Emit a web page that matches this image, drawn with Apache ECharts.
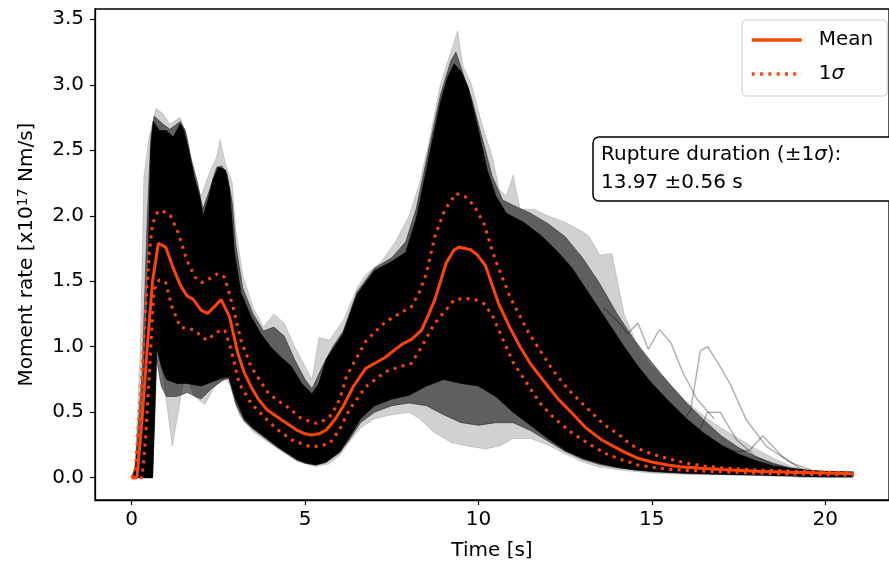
<!DOCTYPE html>
<html>
<head>
<meta charset="utf-8">
<script src="https://cdn.jsdelivr.net/npm/echarts@6/dist/echarts.min.js"></script>
<style>html,body{margin:0;padding:0;background:#fff;}#c{width:889px;height:567px;}</style>
</head>
<body>
<div id="c"></div>
<script>
// ---- tick values ----
const xTicks = [0, 5, 10, 15, 20];
const yTicks = [0, 0.5, 1.0, 1.5, 2.0, 2.5, 3.0, 3.5];

// ---- mean and 1-sigma curves [time s, moment rate x1e17] ----
const meanCurve = [[0,0],[0.15,0],[0.3,0.45],[0.45,1.0],[0.6,1.5],[0.77,1.79],[0.98,1.76],[1.2,1.6],[1.4,1.47],[1.59,1.39],[1.78,1.36],[2.0,1.28],[2.19,1.255],[2.4,1.31],[2.58,1.36],[2.82,1.23],[3.06,0.95],[3.25,0.8],[3.44,0.695],[3.65,0.6],[3.91,0.517],[4.19,0.466],[4.5,0.41],[4.76,0.364],[5.0,0.335],[5.19,0.326],[5.4,0.335],[5.61,0.364],[5.85,0.44],[6.09,0.542],[6.4,0.7],[6.75,0.835],[7.05,0.88],[7.32,0.92],[7.6,0.98],[7.84,1.026],[8.07,1.056],[8.36,1.127],[8.55,1.24],[8.74,1.357],[9.07,1.64],[9.3,1.74],[9.45,1.76],[9.78,1.74],[9.97,1.7],[10.2,1.62],[10.58,1.33],[10.9,1.15],[11.2,1.0],[11.5,0.87],[11.86,0.746],[12.3,0.6],[12.71,0.49],[13.1,0.38],[13.56,0.288],[14.1,0.21],[14.6,0.148],[15.0,0.12],[15.46,0.097],[15.83,0.084],[16.5,0.07],[17,0.062],[18,0.05],[19,0.042],[20,0.035],[20.83,0.03]];
const sigmaUpper = [[0,0],[0.1,0.05],[0.25,0.6],[0.4,1.3],[0.5,1.7],[0.6,1.94],[0.75,2.03],[0.88,2.04],[1.12,2.0],[1.35,1.865],[1.59,1.66],[1.83,1.53],[2.02,1.49],[2.25,1.52],[2.49,1.56],[2.68,1.53],[2.92,1.305],[3.15,1.05],[3.44,0.847],[3.91,0.656],[4.2,0.59],[4.48,0.542],[4.9,0.45],[5.33,0.415],[5.55,0.44],[5.76,0.479],[6.0,0.6],[6.19,0.771],[6.45,0.9],[6.75,1.04],[7.0,1.11],[7.32,1.19],[7.7,1.25],[8.07,1.305],[8.3,1.42],[8.5,1.56],[8.74,1.84],[9.02,2.04],[9.35,2.17],[9.6,2.15],[9.87,2.08],[10.16,1.94],[10.39,1.74],[10.55,1.62],[10.91,1.38],[11.43,1.115],[12.14,0.822],[12.6,0.67],[13.09,0.542],[13.6,0.41],[14.13,0.313],[14.4,0.25],[14.8,0.2],[15.27,0.16],[16.0,0.11],[16.5,0.09],[17,0.075],[18,0.06],[19,0.05],[20,0.043],[20.83,0.038]];
const sigmaLower = [[0,0],[0.3,0],[0.4,0.3],[0.5,0.75],[0.64,1.43],[0.79,1.51],[0.98,1.49],[1.16,1.305],[1.4,1.15],[1.78,1.13],[2.16,1.05],[2.49,1.115],[2.68,1.13],[2.87,0.975],[3.1,0.72],[3.44,0.568],[3.91,0.44],[4.19,0.37],[4.62,0.288],[5.14,0.237],[5.4,0.24],[5.71,0.263],[6.0,0.37],[6.27,0.517],[6.75,0.695],[7.32,0.809],[7.7,0.845],[8.07,0.873],[8.36,1.0],[8.74,1.18],[9.3,1.357],[9.59,1.37],[9.9,1.36],[10.16,1.33],[10.4,1.24],[10.63,1.1],[11.0,0.88],[11.4,0.72],[11.77,0.57],[12.2,0.45],[12.71,0.339],[13.2,0.255],[13.66,0.186],[14.1,0.14],[14.6,0.097],[15.0,0.08],[15.46,0.064],[15.83,0.059],[16.5,0.05],[17,0.045],[18,0.035],[19,0.028],[20,0.023],[20.83,0.02]];

// ---- ensemble envelopes (dense core, medium and faint spread) ----
const denseUpper = [[0,0],[0.1,0.05],[0.3,0.5],[0.45,1.36],[0.55,2.5],[0.62,2.72],[0.8,2.65],[1.0,2.65],[1.2,2.6],[1.4,2.7],[1.5,2.65],[1.64,2.5],[1.8,2.3],[1.95,2.15],[2.06,2.0],[2.2,2.12],[2.35,2.28],[2.5,2.37],[2.7,2.35],[2.82,2.2],[2.96,1.72],[3.15,1.41],[3.44,1.23],[3.72,1.1],[4.0,1.0],[4.3,0.92],[4.6,0.85],[4.9,0.72],[5.2,0.64],[5.4,0.72],[5.6,0.9],[6.1,1.1],[6.5,1.4],[7.0,1.58],[7.5,1.65],[7.9,1.72],[8.2,1.97],[8.6,2.48],[8.9,2.86],[9.1,3.05],[9.3,3.16],[9.5,3.1],[9.7,2.98],[10.0,2.65],[10.25,2.35],[10.5,2.15],[10.8,2.02],[11.3,1.95],[11.8,1.85],[12.3,1.72],[12.7,1.6],[13.2,1.4],[13.7,1.2],[14.2,1.0],[14.6,0.85],[15.0,0.72],[15.5,0.58],[16.0,0.45],[16.5,0.34],[17.0,0.25],[17.5,0.18],[18.0,0.13],[18.5,0.09],[19.0,0.07],[19.5,0.055],[20.0,0.047],[20.8,0.042]];
const denseLower = [[0,0],[0.6,0],[0.66,0.5],[0.72,1.0],[0.85,0.85],[1.0,0.75],[1.3,0.72],[1.6,0.72],[2.0,0.7],[2.3,0.73],[2.6,0.76],[2.8,0.77],[3.0,0.6],[3.25,0.45],[3.5,0.38],[3.8,0.32],[4.2,0.24],[4.76,0.14],[5.0,0.115],[5.3,0.1],[5.6,0.12],[6.0,0.2],[6.3,0.32],[6.6,0.45],[7.0,0.55],[7.5,0.6],[8.0,0.63],[8.5,0.7],[9.0,0.75],[9.5,0.72],[10.0,0.7],[10.5,0.62],[11.0,0.5],[11.5,0.4],[12.0,0.3],[12.5,0.21],[13.0,0.15],[13.5,0.11],[14.0,0.08],[14.5,0.06],[15,0.05],[16,0.035],[17,0.028],[18,0.022],[19,0.015],[19.5,0.01],[20,0.008],[20.8,0.008]];
const midUpper = [[0,0],[0.1,0.08],[0.3,0.8],[0.45,2.0],[0.55,2.6],[0.65,2.76],[0.9,2.7],[1.1,2.66],[1.4,2.72],[1.55,2.65],[1.7,2.45],[1.9,2.25],[2.05,2.05],[2.25,2.2],[2.45,2.37],[2.6,2.38],[2.75,2.32],[2.9,2.1],[3.0,1.78],[3.2,1.45],[3.5,1.25],[3.8,1.12],[4.1,1.15],[4.4,1.08],[4.7,0.9],[5.0,0.75],[5.2,0.68],[5.5,0.85],[5.8,1.0],[6.1,1.12],[6.5,1.42],[7.0,1.6],[7.5,1.68],[7.9,1.8],[8.2,2.05],[8.6,2.55],[8.9,2.92],[9.2,3.18],[9.35,3.25],[9.6,3.05],[9.8,2.9],[10.1,2.6],[10.4,2.3],[10.7,2.12],[11.0,2.08],[11.5,2.02],[12.0,1.94],[12.5,1.84],[13.0,1.68],[13.5,1.48],[14.0,1.25],[14.5,1.05],[15.0,0.88],[15.5,0.72],[16.0,0.57],[16.5,0.44],[17.0,0.32],[17.5,0.23],[18.0,0.16],[18.5,0.11],[19.0,0.075],[19.5,0.057],[20.0,0.048],[20.8,0.043]];
const midLower = [[0,0],[0.6,0],[0.66,0.4],[0.72,0.9],[0.85,0.7],[1.0,0.62],[1.3,0.62],[1.6,0.65],[2.0,0.6],[2.3,0.68],[2.6,0.74],[2.8,0.76],[3.0,0.56],[3.25,0.43],[3.5,0.37],[3.8,0.31],[4.2,0.23],[4.76,0.135],[5.0,0.11],[5.3,0.095],[5.6,0.115],[6.0,0.19],[6.3,0.3],[6.6,0.42],[7.0,0.5],[7.5,0.55],[8.0,0.57],[8.5,0.55],[9.0,0.48],[9.5,0.42],[10.0,0.4],[10.5,0.42],[11.0,0.42],[11.5,0.36],[12.0,0.28],[12.5,0.2],[13.0,0.14],[13.5,0.1],[14.0,0.075],[15,0.045],[16,0.032],[17,0.025],[18,0.02],[19,0.013],[20,0.006],[20.8,0.006]];
const faintUpper = [[0,0],[0.1,0.1],[0.25,1.0],[0.35,2.3],[0.5,2.6],[0.7,2.82],[0.9,2.78],[1.1,2.7],[1.4,2.75],[1.6,2.6],[1.8,2.3],[2.0,2.15],[2.2,2.3],[2.45,2.45],[2.55,2.58],[2.7,2.4],[2.9,2.25],[3.0,1.9],[3.2,1.55],[3.5,1.3],[3.8,1.15],[4.1,1.25],[4.4,1.18],[4.7,1.0],[5.0,0.85],[5.2,0.75],[5.4,1.07],[5.7,1.05],[6.1,1.2],[6.5,1.45],[6.75,1.55],[7.2,1.65],[7.6,1.8],[8.0,2.0],[8.3,2.25],[8.6,2.6],[8.9,3.0],[9.2,3.25],[9.4,3.41],[9.55,3.15],[9.8,3.0],[10.1,2.7],[10.4,2.45],[10.6,2.2],[10.8,2.15],[11.0,2.31],[11.2,2.05],[11.6,2.05],[12.0,2.0],[12.5,1.95],[13.0,1.88],[13.2,1.84],[13.5,1.7],[13.85,1.71],[14.2,1.25],[14.6,1.0],[15.0,0.85],[15.5,0.72],[16.0,0.58],[16.6,0.45],[17.0,0.38],[17.5,0.3],[18.0,0.22],[18.5,0.15],[19.0,0.09],[19.5,0.06],[20.0,0.05],[20.8,0.045]];
const faintLower = [[0,0],[0.6,0],[0.68,0.9],[0.79,1.0],[1.17,0.24],[1.54,0.8],[1.8,0.62],[2.11,0.56],[2.4,0.7],[2.7,0.76],[2.85,0.7],[3.1,0.48],[3.5,0.35],[4.0,0.26],[4.76,0.125],[5.3,0.085],[5.7,0.105],[6.0,0.17],[6.3,0.28],[6.6,0.38],[7.0,0.45],[7.5,0.48],[8.0,0.5],[8.3,0.45],[8.7,0.35],[9.2,0.27],[9.7,0.24],[10.2,0.22],[10.6,0.24],[11.0,0.3],[11.5,0.3],[12.0,0.25],[12.5,0.18],[13,0.12],[13.5,0.08],[14,0.06],[15,0.035],[16,0.025],[17,0.02],[18,0.015],[19,0.008],[19.3,0.0],[20.8,0.0]];

// ---- individual outlier realisations in the tail ----
const outlierA = [[15.5,0.5],[15.93,0.44],[16.12,0.52],[16.4,0.97],[16.61,1.0],[16.9,0.88],[17.25,0.72],[17.73,0.44],[18.3,0.24],[19.05,0.11],[19.6,0.06]];
const outlierB = [[15.8,0.3],[16.3,0.31],[16.6,0.5],[16.97,0.5],[17.44,0.29],[18.0,0.16],[18.6,0.09],[19.3,0.05]];
const outlierC = [[17.0,0.22],[17.5,0.2],[17.82,0.21],[18.2,0.32],[18.77,0.16],[19.34,0.06],[19.8,0.045]];
const outlierD = [[13.6,1.3],[14.0,1.2],[14.3,1.1],[14.6,1.18],[14.9,0.98],[15.22,1.13],[15.55,1.03],[15.9,0.8],[16.3,0.6],[16.8,0.45]];

const FONT = 'DejaVu Sans';
const ORANGE = '#ff4500';

function band(upper, lower, color, z) {
  return {
    type: 'custom', coordinateSystem: 'cartesian2d', silent: true, z: z,
    data: [[upper[0][0], upper[0][1]]],
    renderItem: function (params, api) {
      const pts = [];
      for (let i = 0; i < upper.length; i++) pts.push(api.coord(upper[i]));
      for (let i = lower.length - 1; i >= 0; i--) pts.push(api.coord(lower[i]));
      return { type: 'polygon', shape: { points: pts }, style: { fill: color, stroke: color, lineWidth: 0.8 } };
    }
  };
}
function outlier(d) {
  return { type: 'line', data: d, symbol: 'none', silent: true, z: 4,
    lineStyle: { color: 'rgba(0,0,0,0.3)', width: 1.5 } };
}

const chart = echarts.init(document.getElementById('c'), null, { renderer: 'canvas' });
chart.setOption({
  animation: false,
  textStyle: { fontFamily: FONT },
  grid: { left: 95, top: 9, width: 806.5, height: 491, show: true, borderColor: '#000', borderWidth: 1.3, backgroundColor: 'transparent' },
  xAxis: {
    type: 'value', min: -1.059, max: 21.84,
    name: 'Time [s]', nameLocation: 'middle', nameGap: 41,
    nameTextStyle: { fontSize: 20, color: '#000', fontFamily: FONT },
    axisLine: { show: true, onZero: false, lineStyle: { color: '#000', width: 1.3 } },
    axisTick: { show: true, length: 5, lineStyle: { color: '#000', width: 1.2 }, customValues: xTicks },
    axisLabel: { fontSize: 20, color: '#000', margin: 10, fontFamily: FONT, customValues: xTicks, formatter: v => String(v) },
    splitLine: { show: false }
  },
  yAxis: {
    type: 'value', min: -0.1703, max: 3.5786,
    name: 'Moment rate [x10{sup|17} Nm/s]', nameLocation: 'middle', nameGap: 57, nameRotate: 90,
    nameTextStyle: { fontSize: 20, color: '#000', fontFamily: FONT,
      rich: { sup: { fontSize: 14, color: '#000', fontFamily: FONT, verticalAlign: 'top', padding: [0, 0, 8, 0] } } },
    axisLine: { show: true, onZero: false, lineStyle: { color: '#000', width: 1.3 } },
    axisTick: { show: true, length: 5, lineStyle: { color: '#000', width: 1.2 }, customValues: yTicks },
    axisLabel: { fontSize: 20, color: '#000', margin: 11, fontFamily: FONT, customValues: yTicks, formatter: v => v.toFixed(1) },
    splitLine: { show: false }
  },
  legend: {
    data: ['Mean', '1σ'], orient: 'vertical', left: 742, top: 20,
    itemWidth: 50, itemHeight: 20, itemGap: 14, padding: [10, 14, 12, 8],
    backgroundColor: 'rgba(255,255,255,0.8)', borderColor: '#cccccc', borderWidth: 1, borderRadius: 4,
    selectedMode: false,
    itemStyle: { opacity: 0, borderWidth: 0 },
    lineStyle: { width: 3.5 },
    textStyle: { fontSize: 20, color: '#000', fontFamily: FONT,
      rich: { g: { width: 12 }, i: { fontStyle: 'italic', fontSize: 20, color: '#000', fontFamily: FONT } } },
    formatter: function (name) { return name === 'Mean' ? '{g|}Mean' : '{g|}1{i|σ}'; }
  },
  graphic: [
    { type: 'rect', x: 593, y: 137, z: 100, shape: { x: 0, y: 0, width: 320, height: 64, r: 6 },
      style: { fill: '#fff', stroke: '#000', lineWidth: 1.5 } },
    { type: 'text', x: 601, y: 141, z: 101,
      style: { text: '{a|Rupture duration (±1}{i|σ}{a|):}\n{a|13.97 ±0.56 s}',
        rich: { a: { fontSize: 20, fontFamily: FONT, fill: '#000', lineHeight: 28 },
                i: { fontSize: 20, fontFamily: FONT, fontStyle: 'italic', fill: '#000', lineHeight: 28 } } } }
  ],
  series: [
    band(faintUpper, faintLower, 'rgba(0,0,0,0.18)', 1),
    band(midUpper, midLower, 'rgba(0,0,0,0.55)', 2),
    band(denseUpper, denseLower, '#000', 3),
    outlier(outlierA), outlier(outlierB), outlier(outlierC), outlier(outlierD),
    { name: '1σ', type: 'line', data: sigmaUpper, symbol: 'none', z: 5, silent: true,
      itemStyle: { color: ORANGE },
      lineStyle: { color: ORANGE, width: 3, type: [3, 5.3], cap: 'butt' } },
    { name: '1σ', type: 'line', data: sigmaLower, symbol: 'none', z: 5, silent: true,
      itemStyle: { color: ORANGE },
      lineStyle: { color: ORANGE, width: 3, type: [3, 5.3], cap: 'butt' } },
    { name: 'Mean', type: 'line', data: meanCurve, symbol: 'none', z: 6, silent: true,
      itemStyle: { color: ORANGE },
      lineStyle: { color: ORANGE, width: 3 } }
  ]
});
</script>
</body>
</html>
